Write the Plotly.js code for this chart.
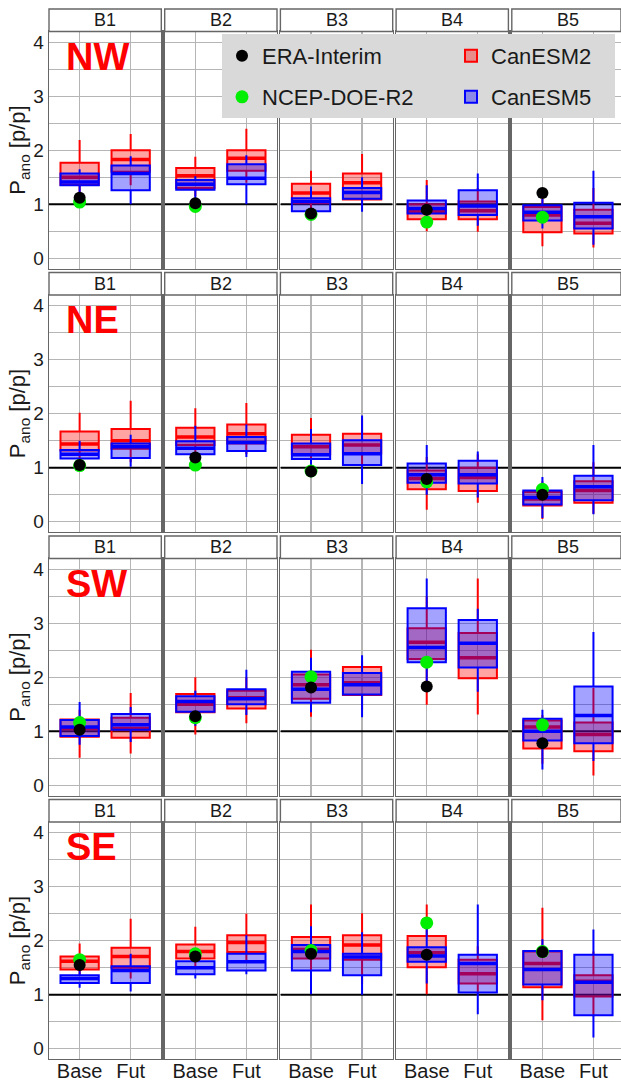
<!DOCTYPE html>
<html><head><meta charset="utf-8">
<script src="https://cdn.plot.ly/plotly-3.0.1.min.js"></script>
<style>html,body{margin:0;padding:0;background:#fff}#chart{width:621px;height:1081px}</style>
</head><body><div id="chart"></div>
<script>
// ---------------- DATA ----------------
const regions = ['NW', 'NE', 'SW', 'SE'];
const basins = ['B1', 'B2', 'B3', 'B4', 'B5'];
const periods = ['Base', 'Fut'];

// each entry: [region][basin] = [Base, Fut]
const can2_q1 = [
  [[1.36,1.60],[1.30,1.62],[1.02,1.09],[0.72,0.72],[0.48,0.46]],
  [[1.32,1.35],[1.42,1.45],[1.25,1.27],[0.60,0.57],[0.30,0.35]],
  [[0.90,0.88],[1.35,1.42],[1.60,1.67],[2.34,1.98],[0.68,0.63]],
  [[1.47,1.50],[1.67,1.79],[1.67,1.65],[1.51,1.21],[1.14,0.97]]
];
const can2_med = [
  [[1.50,1.83],[1.53,1.85],[1.21,1.40],[0.87,0.88],[0.80,0.65]],
  [[1.44,1.50],[1.57,1.63],[1.39,1.42],[0.80,0.82],[0.42,0.58]],
  [[1.05,1.05],[1.50,1.62],[1.86,1.90],[2.65,2.36],[1.08,0.94]],
  [[1.62,1.71],[1.80,1.97],[1.84,1.92],[1.78,1.39],[1.58,1.25]]
];
const can2_q3 = [
  [[1.77,2.00],[1.67,2.00],[1.38,1.57],[1.00,1.05],[0.95,0.90]],
  [[1.67,1.72],[1.74,1.80],[1.61,1.63],[0.95,1.00],[0.55,0.75]],
  [[1.22,1.25],[1.69,1.75],[2.05,2.19],[2.91,2.82],[1.20,1.16]],
  [[1.71,1.87],[1.93,2.10],[2.07,2.10],[2.09,1.65],[1.80,1.36]]
];
const can2_lo = [
  [[1.20,1.35],[1.15,1.40],[0.90,1.00],[0.50,0.49],[0.22,0.20]],
  [[1.05,1.10],[1.10,1.25],[1.00,1.00],[0.22,0.35],[0.05,0.15]],
  [[0.51,0.59],[0.94,1.15],[1.27,1.40],[1.49,1.31],[0.40,0.18]],
  [[1.35,1.30],[1.50,1.60],[1.30,1.20],[1.01,1.00],[0.53,0.60]]
];
const can2_hi = [
  [[2.19,2.30],[1.88,2.40],[1.62,1.93],[1.45,1.30],[1.10,1.30]],
  [[2.02,2.24],[2.10,2.20],[1.92,1.90],[1.20,1.25],[0.75,1.10]],
  [[1.40,1.71],[2.00,2.00],[2.51,2.30],[3.50,3.83],[1.30,1.80]],
  [[1.95,2.41],[2.26,2.50],[2.67,2.51],[2.67,1.90],[2.61,1.80]]
];

const can5_q1 = [
  [[1.35,1.26],[1.27,1.37],[0.87,1.10],[0.83,0.80],[0.70,0.55]],
  [[1.17,1.18],[1.25,1.31],[1.16,1.05],[0.72,0.71],[0.32,0.40]],
  [[0.91,1.03],[1.36,1.50],[1.53,1.68],[2.28,2.18],[0.83,0.78]],
  [[1.22,1.22],[1.38,1.45],[1.45,1.36],[1.61,1.04],[1.19,0.62]]
];
const can5_med = [
  [[1.41,1.57],[1.37,1.48],[1.05,1.22],[0.92,0.97],[0.85,0.77]],
  [[1.25,1.39],[1.36,1.47],[1.24,1.26],[0.87,0.87],[0.45,0.65]],
  [[1.08,1.12],[1.55,1.60],[1.78,1.86],[2.55,2.63],[1.00,1.29]],
  [[1.30,1.45],[1.50,1.61],[1.80,1.70],[1.72,1.58],[1.47,1.23]]
];
const can5_q3 = [
  [[1.57,1.72],[1.45,1.74],[1.11,1.30],[1.07,1.26],[0.98,1.03]],
  [[1.33,1.45],[1.49,1.57],[1.45,1.51],[1.08,1.13],[0.58,0.85]],
  [[1.21,1.32],[1.65,1.78],[2.10,2.08],[3.28,3.06],[1.23,1.83]],
  [[1.36,1.53],[1.62,1.76],[1.92,1.76],[1.88,1.74],[1.81,1.74]]
];
const can5_lo = [
  [[1.10,1.00],[1.02,1.00],[0.82,0.86],[0.70,0.60],[0.55,0.25]],
  [[1.05,1.02],[1.20,1.20],[0.95,0.70],[0.50,0.45],[0.07,0.14]],
  [[0.75,0.80],[1.10,1.30],[1.35,1.26],[1.85,1.73],[0.29,0.45]],
  [[1.13,1.06],[1.30,1.38],[1.01,1.00],[1.21,0.64],[0.90,0.21]]
];
const can5_hi = [
  [[1.65,1.89],[1.52,1.91],[1.33,1.50],[1.35,1.57],[1.10,1.62]],
  [[1.50,1.61],[1.78,1.80],[1.72,1.97],[1.42,1.30],[0.83,1.42]],
  [[1.54,1.45],[1.75,2.14],[2.36,2.41],[3.83,3.27],[1.40,2.84]],
  [[1.45,1.76],[1.75,2.10],[2.27,2.16],[2.30,2.67],[2.03,2.21]]
];

// observations (Base period only): [region][basin]
const eraInterim = [
  [1.12, 1.02, 0.83, 0.90, 1.21],
  [1.05, 1.19, 0.93, 0.79, 0.50],
  [1.03, 1.28, 1.81, 1.83, 0.78],
  [1.55, 1.71, 1.76, 1.74, 1.79]
];
const ncepDoeR2 = [
  [1.04, 0.96, 0.81, 0.67, 0.76],
  [1.04, 1.05, 0.94, 0.74, 0.60],
  [1.16, 1.25, 2.01, 2.28, 1.12],
  [1.65, 1.76, 1.82, 2.33, 1.80]
];

// ---------------- LAYOUT GEOMETRY ----------------
const W = 621, H = 1081, ML = 49;
const colW = 112.3, colPitch = 115.7;
const rowH = 237, rowPitch = 263.5, firstTop = 31.5, stripH = 22.5;
const xRange = [-0.6, 1.6];
const px2x = p => (p - ML) / (W - ML);
const py2y = p => 1 - p / H;
const colLeft = c => ML + c * colPitch;
const rowTop = r => firstTop + r * rowPitch;

const FONT = 'Liberation Sans, Arial, sans-serif';
const GRID = '#b5b5b5', FRAME = '#666666', TXT = '#1a1a1a';

const legendBase = {
  orientation: 'h', xanchor: 'left', yanchor: 'middle',
  bgcolor: 'rgba(0,0,0,0)', borderwidth: 0,
  font: {size: 22, family: FONT, color: TXT}
};

const traces = [];
const layout = {
  width: W, height: H,
  margin: {l: ML, r: 0, t: 0, b: 0, pad: 0},
  paper_bgcolor: '#ffffff', plot_bgcolor: '#ffffff',
  font: {family: FONT, color: TXT},
  boxmode: 'overlay',
  showlegend: true,
  legend:  Object.assign({}, legendBase, {x: px2x(222), y: py2y(56)}),
  legend2: Object.assign({}, legendBase, {x: px2x(451), y: py2y(56)}),
  legend3: Object.assign({}, legendBase, {x: px2x(222), y: py2y(97)}),
  legend4: Object.assign({}, legendBase, {x: px2x(451), y: py2y(97)}),
  shapes: [{
    type: 'rect', xref: 'paper', yref: 'paper',
    x0: px2x(222), x1: px2x(615), y0: py2y(118), y1: py2y(34),
    fillcolor: '#d9d9d9', line: {width: 0}, layer: 'above'
  }],
  annotations: []
};

regions.forEach((reg, r) => {
  basins.forEach((bas, c) => {
    const k = r * 5 + c + 1;
    const xs = k === 1 ? '' : String(k);
    const xa = 'x' + xs, ya = 'y' + xs;
    const x0 = colLeft(c), x1 = Math.min(W, colLeft(c) + colW);
    const top = rowTop(r), bot = rowTop(r) + rowH;

    const xax = {
      domain: [px2x(x0), Math.min(1, px2x(x1))], anchor: ya,
      type: 'category', categoryorder: 'array', categoryarray: periods,
      range: [xRange[0], c === 4 ? 1.54 : xRange[1]],
      showgrid: true, gridcolor: GRID, gridwidth: 1.2,
      showline: true, mirror: true, linecolor: FRAME, linewidth: 1.4,
      ticks: '', zeroline: false, fixedrange: true,
      showticklabels: r === 3, tickfont: {size: 20, color: TXT, family: FONT},
      ticklabelstandoff: -6
    };
    const yax = {
      domain: [py2y(bot), py2y(top)], anchor: xa,
      range: [-0.19, 4.2], tick0: 0, dtick: 1,
      showgrid: true, gridcolor: GRID, gridwidth: 1.2,
      minor: {tick0: 0, dtick: 0.5, showgrid: true, gridcolor: GRID, gridwidth: 1.2},
      showline: true, mirror: true, linecolor: FRAME, linewidth: 1.4,
      ticks: '', zeroline: false, fixedrange: true,
      showticklabels: c === 0, tickfont: {size: 19, color: TXT, family: FONT}
    };
    if (c === 0) yax.title = {text: 'P<sub>ano</sub> [p/p]', font: {size: 22, color: TXT, family: FONT}, standoff: 1};
    layout['xaxis' + xs] = xax;
    layout['yaxis' + xs] = yax;

    // reference line at 1 (between gridlines and data)
    layout.shapes.push({
      type: 'line', xref: xa, yref: ya, x0: xRange[0], x1: xRange[1], y0: 1, y1: 1,
      line: {color: '#000000', width: 2}, layer: 'between'
    });

    // CanESM2 box
    traces.push({
      type: 'box', x: periods, xaxis: xa, yaxis: ya,
      q1: can2_q1[r][c], median: can2_med[r][c], q3: can2_q3[r][c],
      lowerfence: can2_lo[r][c], upperfence: can2_hi[r][c],
      name: 'CanESM2', legend: 'legend2', legendgroup: 'c2', showlegend: k === 1,
      width: 0.75, whiskerwidth: 0, boxpoints: false,
      fillcolor: 'rgba(255,0,0,0.36)', line: {color: '#ff0000', width: 2},
      hoverinfo: 'skip'
    });
    // CanESM2 thick median
    traces.push({
      type: 'box', x: periods, xaxis: xa, yaxis: ya,
      q1: can2_med[r][c], median: can2_med[r][c], q3: can2_med[r][c],
      lowerfence: can2_med[r][c], upperfence: can2_med[r][c],
      name: 'CanESM2', legend: 'legend2', legendgroup: 'c2', showlegend: false,
      width: 0.75, whiskerwidth: 0, boxpoints: false,
      fillcolor: 'rgba(0,0,0,0)', line: {color: '#ff0000', width: 3.5},
      hoverinfo: 'skip'
    });
    // CanESM5 box
    traces.push({
      type: 'box', x: periods, xaxis: xa, yaxis: ya,
      q1: can5_q1[r][c], median: can5_med[r][c], q3: can5_q3[r][c],
      lowerfence: can5_lo[r][c], upperfence: can5_hi[r][c],
      name: 'CanESM5', legend: 'legend4', legendgroup: 'c5', showlegend: k === 1,
      width: 0.75, whiskerwidth: 0, boxpoints: false,
      fillcolor: 'rgba(0,0,255,0.36)', line: {color: '#0000ff', width: 2},
      hoverinfo: 'skip'
    });
    traces.push({
      type: 'box', x: periods, xaxis: xa, yaxis: ya,
      q1: can5_med[r][c], median: can5_med[r][c], q3: can5_med[r][c],
      lowerfence: can5_med[r][c], upperfence: can5_med[r][c],
      name: 'CanESM5', legend: 'legend4', legendgroup: 'c5', showlegend: false,
      width: 0.75, whiskerwidth: 0, boxpoints: false,
      fillcolor: 'rgba(0,0,0,0)', line: {color: '#0000ff', width: 3.5},
      hoverinfo: 'skip'
    });
    // observations
    traces.push({
      type: 'scatter', mode: 'markers', x: [periods[0]], y: [ncepDoeR2[r][c]],
      xaxis: xa, yaxis: ya, name: 'NCEP-DOE-R2', legend: 'legend3', legendgroup: 'ncep',
      showlegend: k === 1,
      marker: {color: '#00ee00', size: 13}, hoverinfo: 'skip', cliponaxis: false
    });
    traces.push({
      type: 'scatter', mode: 'markers', x: [periods[0]], y: [eraInterim[r][c]],
      xaxis: xa, yaxis: ya, name: 'ERA-Interim', legend: 'legend', legendgroup: 'era',
      showlegend: k === 1,
      marker: {color: '#000000', size: 12}, hoverinfo: 'skip', cliponaxis: false
    });

    // strip
    layout.shapes.push({
      type: 'rect', xref: 'paper', yref: 'paper',
      x0: px2x(x0), x1: Math.min(1, px2x(x1)), y0: py2y(top), y1: py2y(top - stripH),
      fillcolor: '#ffffff', line: {color: FRAME, width: 1.4}, layer: 'above'
    });
    layout.annotations.push({
      xref: 'paper', yref: 'paper', x: px2x(colLeft(c) + colW / 2), y: py2y(top - stripH / 2),
      text: bas, showarrow: false, xanchor: 'center', yanchor: 'middle',
      font: {size: 18, color: TXT, family: FONT}
    });
  });
  // region label
  layout.annotations.push({
    xref: 'paper', yref: 'paper', x: px2x(64), y: py2y(rowTop(r) + 25),
    text: '<b>' + reg + '</b>', showarrow: false, xanchor: 'left', yanchor: 'middle',
    font: {size: 38, color: '#ff0000', family: FONT}
  });
});

Plotly.newPlot('chart', traces, layout, {displayModeBar: false, staticPlot: true});
</script>
</body></html>
